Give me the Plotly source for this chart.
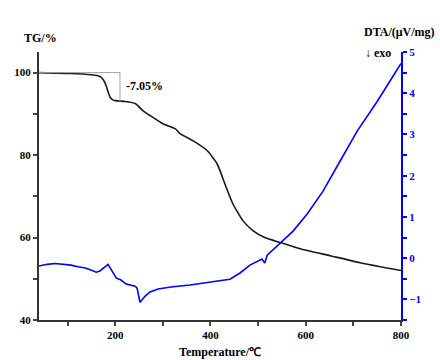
import plotly.graph_objects as go

# Thermogravimetric curve (mass %, left axis)
tg_temp = [40, 105, 150, 162, 170, 176, 181, 186, 190, 195, 200, 221, 242, 258, 273,
           300, 326, 336, 363, 393, 414, 430, 447, 468, 489, 514, 546, 588, 651,
           714, 800]
tg_mass = [100, 99.8, 99.5, 99.3, 98.9, 98.1, 96.8, 95.0, 93.9, 93.4, 93.2, 93.0,
           92.5, 90.8, 89.6, 87.6, 86.4, 85.2, 83.5, 81.1, 77.9, 73.1, 68.2, 64.1,
           61.7, 60.0, 58.8, 57.3, 55.6, 53.9, 52.0]

# Differential thermal analysis signal (µV/mg, right axis)
dta_temp = [40, 57, 74, 90, 107, 122, 137, 149, 160, 168, 185, 202, 212, 223, 242,
            246, 252, 263, 273, 290, 317, 357, 399, 441, 462, 483, 508, 514, 519,
            546, 573, 603, 636, 672, 708, 750, 800]
dta_sig = [-0.19, -0.15, -0.13, -0.15, -0.17, -0.21, -0.24, -0.29, -0.34, -0.31,
           -0.15, -0.48, -0.53, -0.63, -0.68, -0.73, -1.07, -0.92, -0.82, -0.75,
           -0.70, -0.65, -0.58, -0.51, -0.36, -0.17, -0.02, -0.12, 0.07, 0.36, 0.65,
           1.07, 1.62, 2.35, 3.08, 3.80, 4.72]

# First mass-loss step
step_end_temp = 210
step_loss = 7.05
step_label = "-7.05%"

FONT = "'Liberation Serif', 'Times New Roman', Times, serif"
BLUE = "#0000ff"

fig = go.Figure()
fig.add_trace(go.Scatter(x=tg_temp, y=tg_mass, mode="lines",
                         line=dict(color="#1a1a1a", width=1.6, shape="spline", smoothing=0.5),
                         yaxis="y", showlegend=False))
fig.add_trace(go.Scatter(x=dta_temp, y=dta_sig, mode="lines",
                         line=dict(color=BLUE, width=1.6),
                         yaxis="y2", showlegend=False))

# Bracket marking the first mass-loss step
fig.add_shape(type="line", xref="x", yref="y", x0=40, x1=step_end_temp, y0=100, y1=100,
              line=dict(color="#a0a0a0", width=1))
fig.add_shape(type="line", xref="x", yref="y", x0=step_end_temp, x1=step_end_temp,
              y0=100, y1=100 - step_loss, line=dict(color="#a0a0a0", width=1))

tick_font = dict(family=FONT, size=11, color="black", weight="bold")


def label(text, x, y, size=12, xref="paper", yref="paper"):
    return dict(text="<b>" + text + "</b>", xref=xref, yref=yref, x=x, y=y,
                xanchor="center", yanchor="middle", showarrow=False,
                font=dict(family=FONT, size=size, color="black"))


fig.update_layout(
    width=440, height=360,
    margin=dict(l=39, r=39, t=52, b=40),
    paper_bgcolor="white", plot_bgcolor="white",
    font=dict(family=FONT),
    xaxis=dict(range=[40, 800], tick0=0, dtick=200, ticks="outside", ticklen=4,
               tickwidth=1.5, showline=True, linecolor="#333", linewidth=2,
               showgrid=False, zeroline=False, tickfont=tick_font,
               minor=dict(dtick=100, tick0=0, ticks="outside", ticklen=4,
                          tickwidth=1.5, showgrid=False)),
    yaxis=dict(range=[40, 105], tick0=0, dtick=20, ticks="outside", ticklen=4,
               tickwidth=1.5, showline=True, linecolor="#333", linewidth=2,
               showgrid=False, zeroline=False, tickfont=tick_font,
               minor=dict(dtick=10, tick0=0, ticks="outside", ticklen=4,
                          tickwidth=1.5, showgrid=False)),
    yaxis2=dict(range=[-1.5, 5], overlaying="y", side="right", tick0=0, dtick=1,
                ticks="outside", ticklen=4, tickwidth=1.5, tickcolor=BLUE,
                showline=True, linecolor=BLUE, linewidth=2, showgrid=False,
                zeroline=False,
                tickfont=dict(family=FONT, size=11, color=BLUE, weight="bold"),
                minor=dict(dtick=0.5, tick0=0, ticks="outside", ticklen=4,
                           tickwidth=1.5, tickcolor=BLUE, showgrid=False)),
    annotations=[
        label("TG/%", 0.003, 1.052),
        label("DTA/(μV/mg)", 0.995, 1.075),
        label("↓ exo", 0.936, 0.997),
        label("Temperature/℃", 0.5, -0.119),
        label(step_label, 262, 96.8, xref="x", yref="y"),
    ],
)

fig.write_html("out.html")
